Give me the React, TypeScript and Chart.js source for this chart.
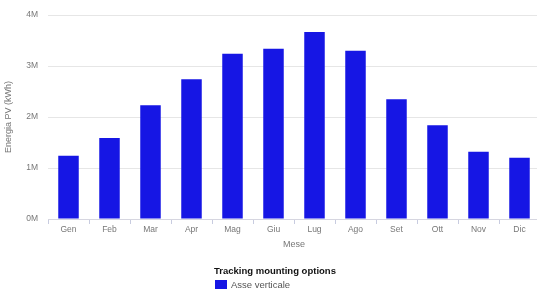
import React, { useEffect, useRef } from "react";
import { Chart, registerables } from "chart.js";

Chart.register(...registerables);

const months = ["Gen", "Feb", "Mar", "Apr", "Mag", "Giu", "Lug", "Ago", "Set", "Ott", "Nov", "Dic"];
const energyKWh = [1240000, 1590000, 2230000, 2740000, 3240000, 3340000, 3670000, 3300000, 2350000, 1840000, 1320000, 1200000];
const seriesLabel = "Asse verticale";
const legendTitle = "Tracking mounting options";
const xTitle = "Mese";
const yTitle = "Energia PV (kWh)";
const barColor = "#1616e4";

const FAMILY = "'Liberation Sans', Arial, sans-serif";

export default function App() {
  const ref = useRef<HTMLCanvasElement | null>(null);
  useEffect(() => {
    document.body.style.margin = "0";
    document.body.style.overflow = "hidden";
    const tickFont = { family: FAMILY, size: 8.5 };
    const titleFont = { family: FAMILY, size: 9 };
    const chart = new Chart(ref.current!, {
      type: "bar",
      data: {
        labels: months,
        datasets: [
          {
            label: seriesLabel,
            data: energyKWh,
            backgroundColor: barColor,
            borderWidth: 0,
            barPercentage: 0.5,
            categoryPercentage: 1,
          },
        ],
      },
      options: {
        responsive: false,
        animation: false,
        layout: { padding: { top: 8, left: 0, right: 0, bottom: 43 } },
        plugins: {
          tooltip: { enabled: false },
          legend: { display: false },
        },
        scales: {
          x: {
            afterFit: (s: any) => {
              s.height = 31;
            },
            grid: {
              display: true,
              drawOnChartArea: false,
              drawTicks: true,
              tickLength: 5,
              color: "#c8cce0",
              offset: true,
            },
            border: { display: true, color: "#d6d6e0" },
            ticks: { color: "#777", font: tickFont, padding: 1 },
            title: { display: true, text: xTitle, color: "#777", font: titleFont, padding: { top: 0, bottom: 0 } },
          },
          y: {
            min: 0,
            max: 4000000,
            afterFit: (s: any) => {
              s.width = 48;
            },
            ticks: {
              stepSize: 1000000,
              color: "#777",
              font: tickFont,
              padding: 10,
              callback: (v: any) => Number(v) / 1000000 + "M",
            },
            grid: { color: "#e6e6e6", drawTicks: false },
            border: { display: false },
            title: { display: true, text: yTitle, color: "#777", font: titleFont, padding: { top: 3, bottom: 0 } },
          },
        },
      },
    });
    return () => chart.destroy();
  }, []);
  return (
    <div style={{ width: 537, height: 293, overflow: "hidden", position: "relative", fontFamily: FAMILY }}>
      <canvas ref={ref} width={540} height={293} style={{ display: "block" }} />
      <div
        style={{
          position: "absolute",
          left: 214,
          top: 265,
          fontSize: 9.5,
          lineHeight: "12px",
          fontWeight: "bold",
          color: "#111",
          whiteSpace: "nowrap",
        }}
      >
        {legendTitle}
      </div>
      <div
        style={{
          position: "absolute",
          left: 215,
          top: 279,
          height: 11,
          display: "flex",
          alignItems: "center",
          fontSize: 9.5,
          color: "#555",
          whiteSpace: "nowrap",
        }}
      >
        <span style={{ display: "inline-block", width: 12, height: 9, background: barColor, marginRight: 4 }} />
        <span>{seriesLabel}</span>
      </div>
    </div>
  );
}
